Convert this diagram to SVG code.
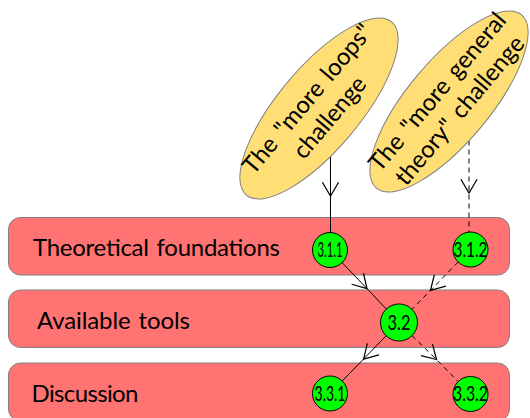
<svg xmlns="http://www.w3.org/2000/svg" width="530" height="418" viewBox="0 0 530 418">
<style>
.band{fill:#FF7373;stroke:#808080;stroke-width:1}
.ell{fill:#FFDE75;stroke:#808080;stroke-width:1}
.node{fill:#00FF00;stroke:#000;stroke-width:1}
.lbl{font-family:Lato,"Liberation Sans",sans-serif;font-size:24px;fill:#000;word-spacing:2px}
.elbl{font-family:Lato,"Liberation Sans",sans-serif;font-size:24px;fill:#000;text-anchor:middle;word-spacing:3px}
.nlbl{font-family:Lato,"Liberation Sans",sans-serif;font-size:20.5px;fill:#000;text-anchor:middle}
.conn{fill:none;stroke:#000;stroke-width:1}
.dash{stroke-dasharray:5,4}
</style>
<defs>
<marker id="arr" markerUnits="userSpaceOnUse" markerWidth="20" markerHeight="20" refX="0" refY="0" viewBox="-12 -8 14 16" orient="auto" overflow="visible">
<path d="M-11,-6.5 L0,0 L-11,6.5" fill="none" stroke="#000" stroke-width="1"/>
</marker>
</defs>
<g id="band-theory"><rect class="band" x="8.5" y="217.5" width="501" height="57.5" rx="12"/><text class="lbl" x="33" y="256" textLength="247">Theoretical foundations</text></g>
<g id="band-tools"><rect class="band" x="8.5" y="290" width="501" height="57.5" rx="12"/><text class="lbl" x="37" y="328.5" textLength="153">Available tools</text></g>
<g id="band-discussion"><rect class="band" x="8.5" y="363" width="501" height="58" rx="12"/><text class="lbl" x="31.5" y="402" textLength="107">Discussion</text></g>
<g id="connectors">
<path class="conn" d="M330.5,156 L330.5,196 L330.5,233" marker-mid="url(#arr)"/>
<path class="conn dash" d="M469,140.5 L469,193 L469,232" marker-mid="url(#arr)"/>
<path class="conn" d="M330,250 L367,288.6 L399,322.5" marker-mid="url(#arr)"/>
<path class="conn dash" d="M458.2,262 L430.5,290.3 L412,309.3" marker-mid="url(#arr)"/>
<path class="conn" d="M399,322.5 L363.6,359 L330,393.5" marker-mid="url(#arr)"/>
<path class="conn dash" d="M412,335.6 L436.5,359.5 L458,381.5" marker-mid="url(#arr)"/>
</g>
<g id="challenge-loops"><ellipse class="ell" cx="319" cy="108.5" rx="113" ry="41" transform="rotate(-50 319 108.5)"/>
<g transform="rotate(-50 319 108.5)"><text class="elbl" x="319" y="101.5">The "more loops"</text><text class="elbl" x="319" y="130.5">challenge</text></g></g>
<g id="challenge-theory"><ellipse class="ell" cx="449" cy="101.5" rx="113" ry="41" transform="rotate(-50 449 101.5)"/>
<g transform="rotate(-50 449 101.5)"><text class="elbl" x="449" y="94.5">The "more general</text><text class="elbl" x="449" y="123.5">theory" challenge</text></g></g>
<g id="n311"><circle class="node" cx="330" cy="250" r="17.5"/><text class="nlbl" x="330" y="257" textLength="25" lengthAdjust="spacingAndGlyphs">3.1.1</text></g>
<g id="n312"><circle class="node" cx="470.5" cy="249.5" r="17.5"/><text class="nlbl" x="470.5" y="256.5" textLength="34" lengthAdjust="spacingAndGlyphs">3.1.2</text></g>
<g id="n32"><circle class="node" cx="399" cy="322.5" r="18.5"/><text class="nlbl" x="399" y="329.5" textLength="23" lengthAdjust="spacingAndGlyphs">3.2</text></g>
<g id="n331"><circle class="node" cx="330" cy="393.5" r="17.5"/><text class="nlbl" x="330" y="400.5" textLength="31" lengthAdjust="spacingAndGlyphs">3.3.1</text></g>
<g id="n332"><circle class="node" cx="470.5" cy="394" r="17.5"/><text class="nlbl" x="470.5" y="401" textLength="35" lengthAdjust="spacingAndGlyphs">3.3.2</text></g>
</svg>
